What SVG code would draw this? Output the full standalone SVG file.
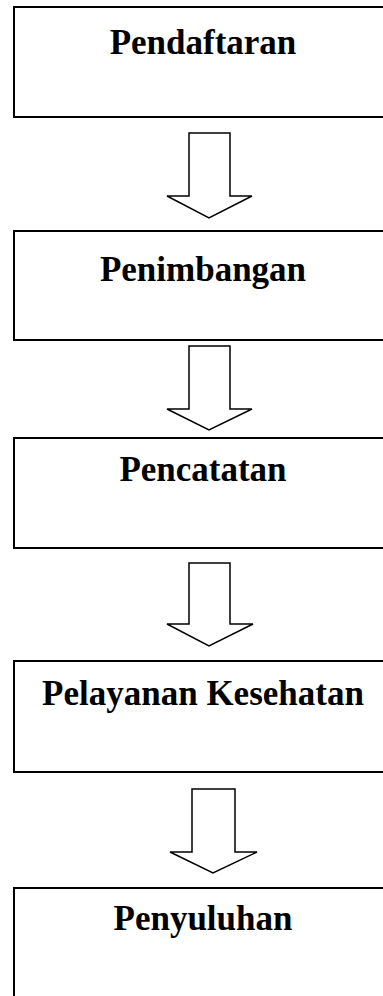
<svg xmlns="http://www.w3.org/2000/svg" width="383" height="996" viewBox="0 0 383 996">
<style>
.box{fill:#fff;stroke:#000;stroke-width:2}
.lbl{font-family:"Liberation Serif","Times New Roman",serif;font-weight:bold;font-size:35px;fill:#000;text-anchor:middle}
.arr{fill:#fff;stroke:#000;stroke-width:1.5;stroke-linejoin:miter}
</style>
<rect width="383" height="996" fill="#fff"/>
<g id="connectors">
<path class="arr" d="M189,133 H230 V196 H252 L209,218 L167,196 H189 Z"/>
<path class="arr" d="M189,346 H230 V409 H252 L209,430 L167,409 H189 Z"/>
<path class="arr" d="M189,563 H230 V624 H253 L209,646 L167,624 H189 Z"/>
<path class="arr" d="M192,789 H235 V852 H257 L213,873 L170,852 H192 Z"/>
</g>
<g id="n1"><rect class="box" x="14" y="7" width="380" height="110"/><text class="lbl" x="203" y="54">Pendaftaran</text></g>
<g id="n2"><rect class="box" x="14" y="231" width="380" height="109"/><text class="lbl" x="203" y="281">Penimbangan</text></g>
<g id="n3"><rect class="box" x="14" y="438" width="380" height="110"/><text class="lbl" x="203" y="481">Pencatatan</text></g>
<g id="n4"><rect class="box" x="14" y="661" width="380" height="111"/><text class="lbl" x="203" y="705">Pelayanan Kesehatan</text></g>
<g id="n5"><rect class="box" x="14" y="888" width="380" height="115"/><text class="lbl" x="203" y="930">Penyuluhan</text></g>
</svg>
